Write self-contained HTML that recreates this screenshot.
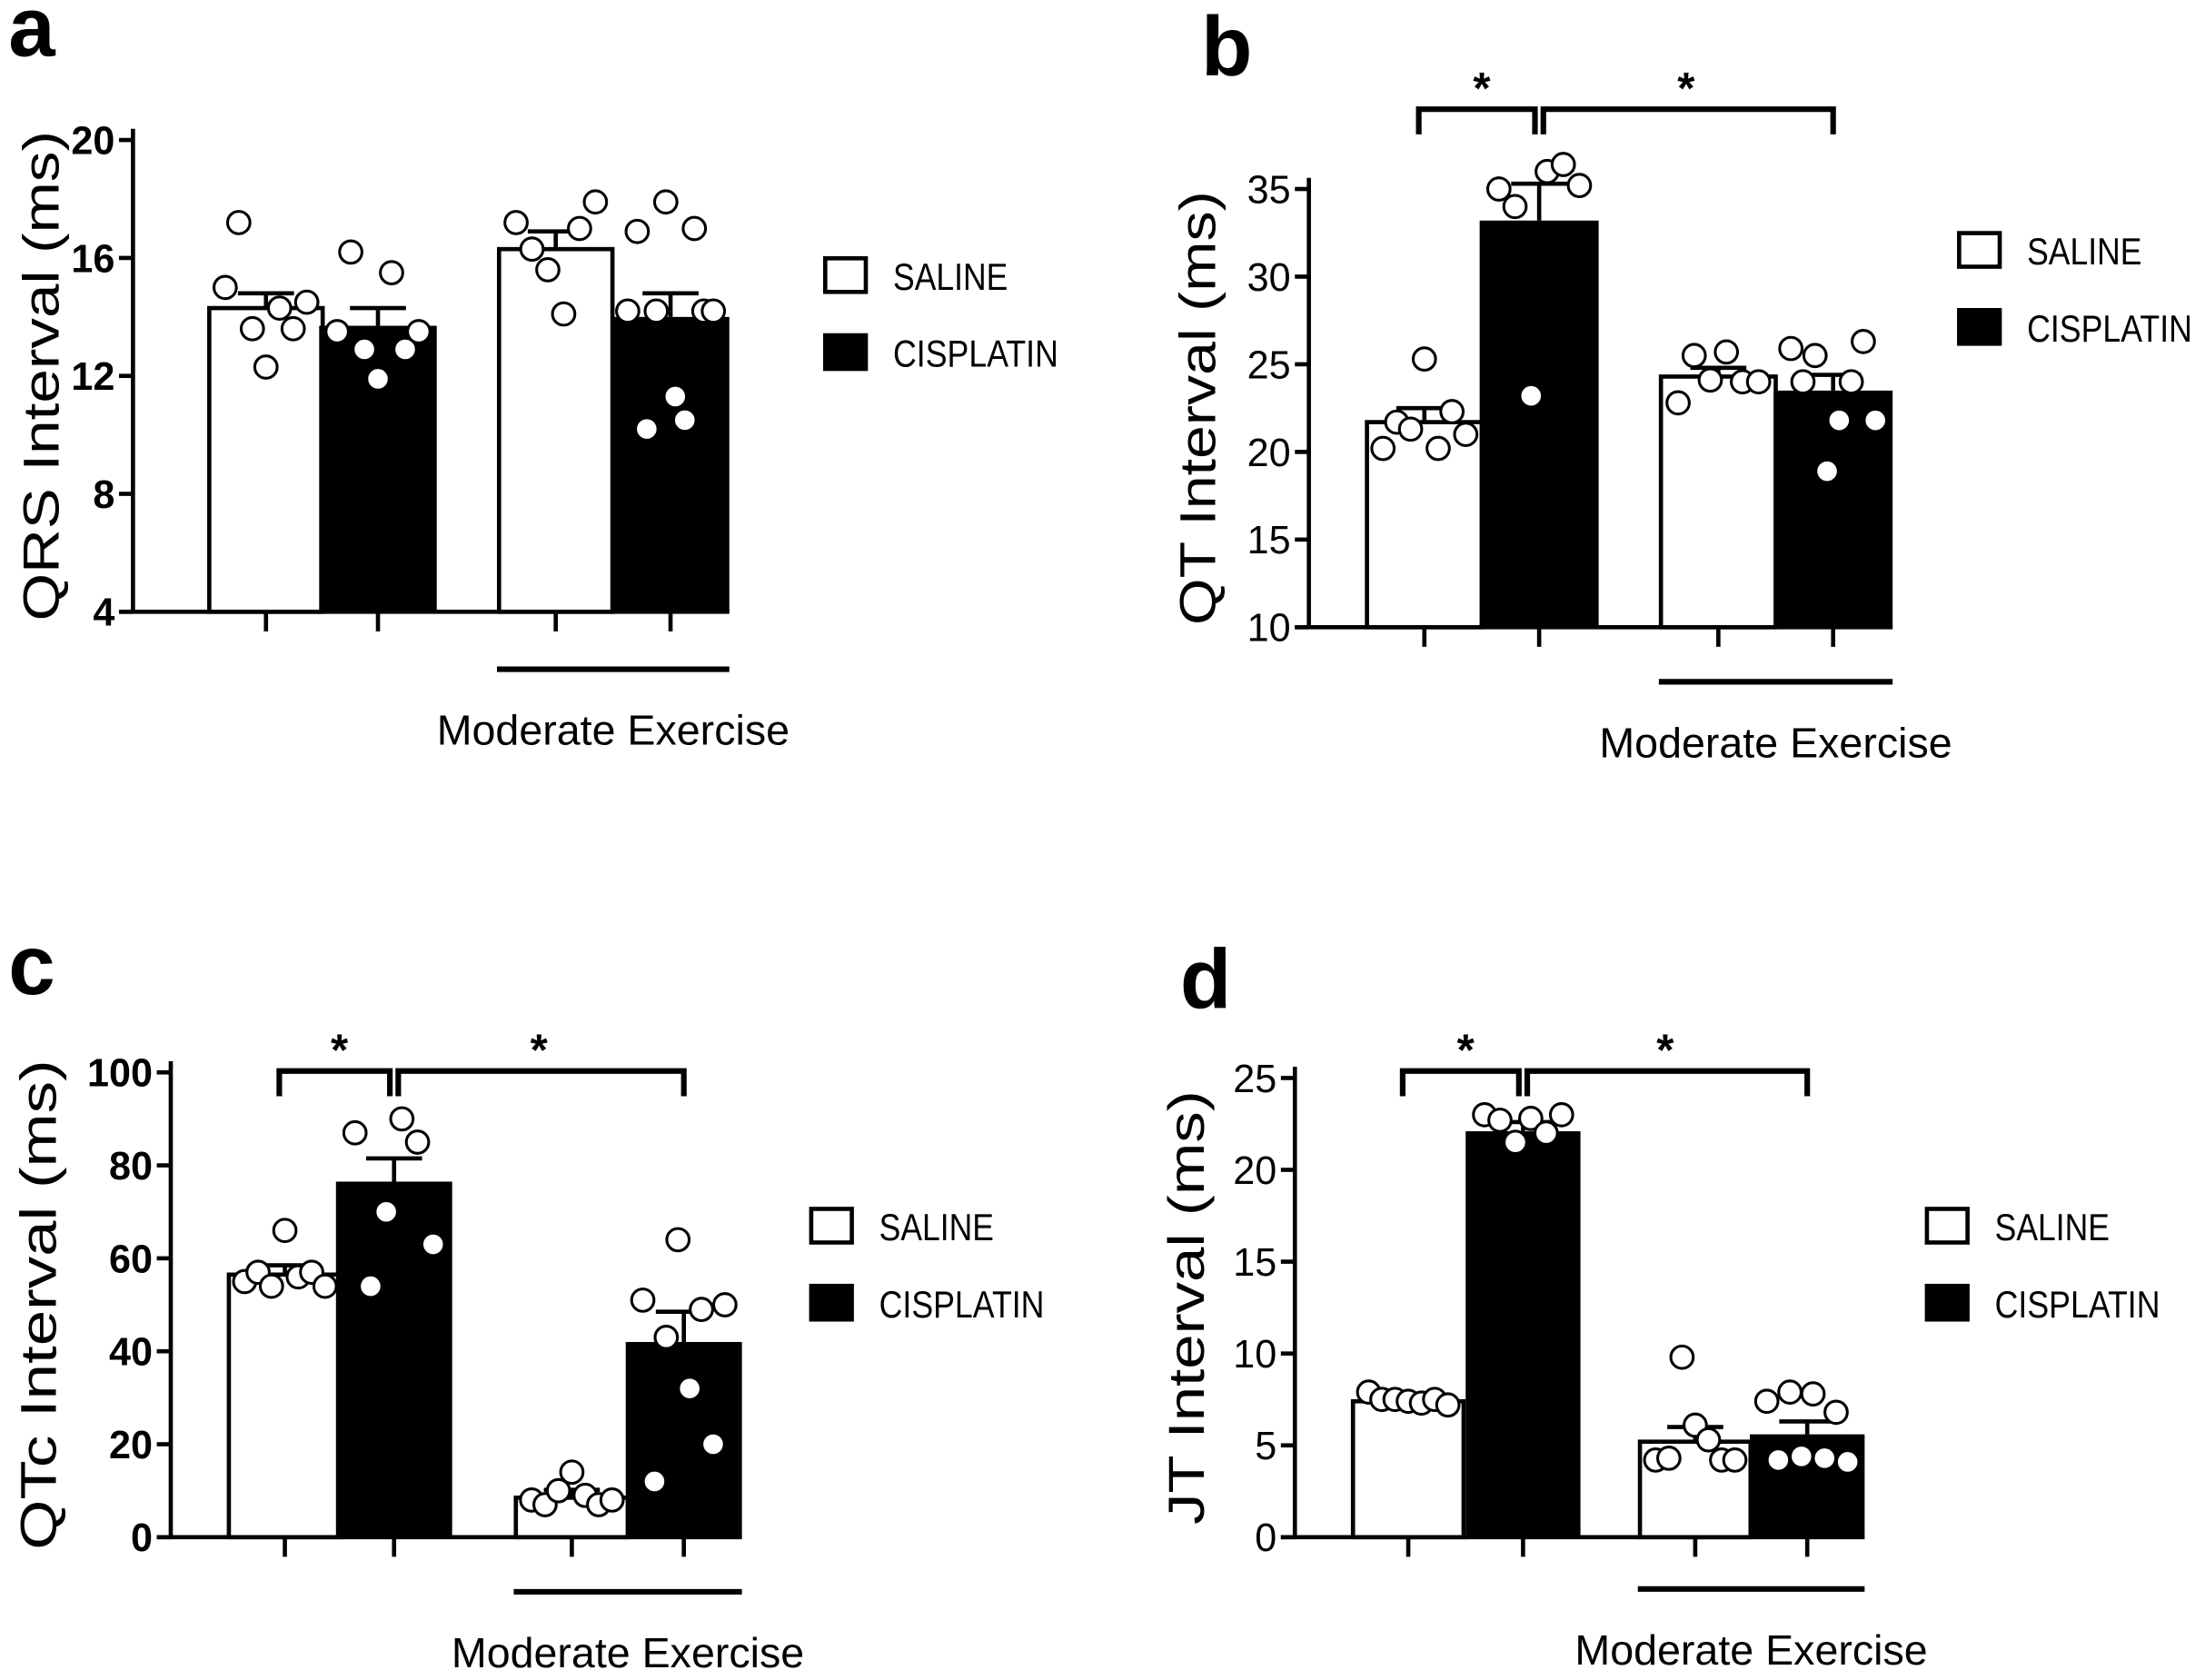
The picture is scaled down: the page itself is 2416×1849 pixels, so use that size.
<!DOCTYPE html>
<html><head><meta charset="utf-8">
<style>
html,body{margin:0;padding:0;background:#fff;}
svg{display:block;}
text{font-family:"Liberation Sans","DejaVu Sans",sans-serif;fill:#000;}
</style></head>
<body>
<svg id="fig" width="2416" height="1849" viewBox="0 0 1568 1200" xmlns="http://www.w3.org/2000/svg"></svg>
<script>
// Panel a: QRS
const aCats = ["Saline", "Cisplatin", "Saline Exercise", "Cisplatin Exercise"];
const aMeans = [14.3, 13.7, 16.3, 14.0];
const aErr = [14.8, 14.3, 16.9, 14.8];
const aPts = [[15.0, 17.2, 13.6, 12.3, 14.3, 13.6, 14.5],[13.5, 16.2, 12.9, 11.9, 15.5, 12.9, 13.5],[17.2, 16.3, 15.6, 14.1, 17.0, 17.9],[14.2, 16.9, 10.2, 14.2, 17.9, 11.3, 10.5, 17.0, 14.2, 14.2]];
const aTicks = [4, 8, 12, 16, 20];
// Panel b: QT
const bMeans = [21.7, 33.2, 24.3, 23.5];
const bErr = [22.5, 35.3, 24.8, 24.4];
const bPts = [[20.2, 21.7, 21.3, 25.3, 20.2, 22.3, 21.0],[35.0, 34.0, 23.2, 36.0, 36.4, 35.2],[22.8, 25.5, 24.1, 25.7, 24.0, 24.0],[25.9, 24.0, 25.5, 18.9, 21.8, 24.0, 26.3, 21.8]];
const bTicks = [10, 15, 20, 25, 30, 35];
// Panel c: QTc
const cMeans = [56.5, 76.5, 8.5, 42.0];
const cErr = [58.5, 81.5, 10.2, 48.5];
const cPts = [[55, 57, 54, 66, 56, 57, 54],[87, 54, 70, 90, 85, 63],[8, 7, 10, 14, 9, 7, 8],[51, 12, 43, 64, 32, 49, 20, 50]];
const cTicks = [0, 20, 40, 60, 80, 100];
// Panel d: JT
const dMeans = [7.4, 22.1, 5.2, 5.6];
const dErr = [7.8, 22.6, 6.0, 6.3];
const dPts = [[7.9, 7.5, 7.5, 7.4, 7.3, 7.5, 7.2],[23, 22.7, 21.5, 22.8, 22, 23],[4.2, 4.3, 9.8, 6.1, 5.3, 4.2, 4.2],[7.4, 4.2, 7.9, 4.4, 7.8, 4.3, 6.8, 4.1]];
const dTicks = [0, 5, 10, 15, 20, 25];

const NS = "http://www.w3.org/2000/svg";
const svg = document.getElementById("fig");
function mk(tag, attrs, parent, txt){
  const e = document.createElementNS(NS, tag);
  for (const k in attrs) e.setAttribute(k, attrs[k]);
  if (txt !== undefined) e.textContent = txt;
  (parent || svg).appendChild(e);
  return e;
}

function panel(cfg){
  const g = mk("g", {});
  
  
  const y = v => cfg.y0 - (v - cfg.vmin) / (cfg.vmax - cfg.vmin) * (cfg.y0 - cfg.y1);
  const L = mk("text", {x: cfg.letterX, y: cfg.letterY, "font-size": 60, "font-weight": "bold"}, g, cfg.letter);
  
  
  const ya = mk("line", {x1: cfg.ax, y1: cfg.y1 - 8, x2: cfg.ax, y2: cfg.y0, stroke: "#000", "stroke-width": 3}, g);
  
  
  cfg.ticks.forEach(t => {
    const tl = mk("line", {x1: cfg.ax - 10, y1: y(t), x2: cfg.ax, y2: y(t), stroke: "#000", "stroke-width": 3}, g);
    
    
    const tt = mk("text", {x: cfg.ax - 13, y: y(t) + 10, "font-size": 28, "text-anchor": "end", "font-weight": cfg.bold ? "bold" : "normal"}, g, String(t));
    
    
  });
  const yt = mk("text", {x: 0, y: 0, "font-size": 36, "text-anchor": "middle", textLength: cfg.titleLen, lengthAdjust: "spacingAndGlyphs", transform: `translate(${cfg.titleX},${(cfg.y0 + cfg.y1) / 2}) rotate(-90)`}, g, cfg.title);
  
  
  cfg.bars.forEach((bx, i) => {
    const w = cfg.bw;
    const black = i % 2 === 1;
    const top = y(cfg.means[i]);
    const cx = bx + w / 2;
    const e1 = mk("line", {x1: cx, y1: y(cfg.err[i]), x2: cx, y2: top, stroke: "#000", "stroke-width": 3}, g);
    
    
    const e2 = mk("line", {x1: cx - 20, y1: y(cfg.err[i]), x2: cx + 20, y2: y(cfg.err[i]), stroke: "#000", "stroke-width": 3}, g);
    
    
    const r = mk("rect", {x: bx + (black ? 0 : 1.5), y: top, width: w - (black ? 0 : 3), height: cfg.y0 - top, fill: black ? "#000" : "#fff", stroke: "#000", "stroke-width": black ? 0 : 3}, g);
    
    
    const xt = mk("line", {x1: cx, y1: cfg.y0, x2: cx, y2: cfg.y0 + 14, stroke: "#000", "stroke-width": 3}, g);
    
    
    const pts = cfg.pts[i];
    pts.forEach((v, j) => {
      const px = bx + 8 + (j + 0.5) / pts.length * (w - 16);
      const c = mk("circle", {cx: px, cy: y(v), r: 8, fill: "#fff", stroke: "#000", "stroke-width": 2}, g);
      
      
    });
  });
  const xa = mk("line", {x1: cfg.ax - 10, y1: cfg.y0, x2: cfg.bars[3] + cfg.bw, y2: cfg.y0, stroke: "#000", "stroke-width": 3}, g);
  
  
  const ex = mk("line", {x1: cfg.bars[2], y1: cfg.exY, x2: cfg.bars[3] + cfg.bw, y2: cfg.exY, stroke: "#000", "stroke-width": 4}, g);
  
  
  const et = mk("text", {x: (cfg.bars[2] + cfg.bars[3] + cfg.bw) / 2, y: cfg.exY + 54, "font-size": 30, "text-anchor": "middle", textLength: 252, lengthAdjust: "spacingAndGlyphs"}, g, "Moderate Exercise");
  
  
  if (cfg.sig){
    const c = i => cfg.bars[i] + cfg.bw / 2;
    const by = cfg.sigY;
    const p1 = mk("path", {d: `M${c(0)-4},${by+18} V${by} H${c(1)-3} V${by+18}`, fill: "none", stroke: "#000", "stroke-width": 4}, g);
    
    
    const p2 = mk("path", {d: `M${c(1)+3},${by+18} V${by} H${c(3)} V${by+18}`, fill: "none", stroke: "#000", "stroke-width": 4}, g);
    
    
    const s1 = mk("text", {x: (c(0) + c(1)) / 2, y: by - 4, "font-size": 32, "font-weight": "bold", "text-anchor": "middle"}, g, "*");
    
    
    const s2 = mk("text", {x: (c(1) + c(3)) / 2, y: by - 4, "font-size": 32, "font-weight": "bold", "text-anchor": "middle"}, g, "*");
    
    
  }
  ["SALINE", "CISPLATIN"].forEach((lab, i) => {
    const ly = cfg.legY + i * 55;
    const b = mk("rect", {x: cfg.legX + 1.5, y: ly + 1.5, width: 29, height: 24, fill: i ? "#000" : "#fff", stroke: "#000", "stroke-width": 3}, g);
    
    
    const t = mk("text", {x: cfg.legX + 50, y: ly + 24, "font-size": 27, textLength: i ? 118 : 82, lengthAdjust: "spacingAndGlyphs"}, g, lab);
    
    
  });
}

panel({name: "panel-a-qrs", letter: "a", letterX: 6, letterY: 40, ax: 95, y0: 437, y1: 100, vmin: 4, vmax: 20, ticks: aTicks, bold: true, title: "QRS Interval (ms)", titleLen: 350, titleX: 42,
  bars: [148, 228, 355, 437], bw: 84, means: aMeans, err: aErr, pts: aPts, exY: 478, sig: false, legX: 588, legY: 183});
panel({name: "panel-b-qt", letter: "b", letterX: 858, letterY: 54, ax: 935, y0: 448, y1: 135, vmin: 10, vmax: 35, ticks: bTicks, bold: false, title: "QT Interval (ms)", titleLen: 310, titleX: 868,
  bars: [975, 1057, 1185, 1267], bw: 85, means: bMeans, err: bErr, pts: bPts, exY: 487, sig: true, sigY: 78, legX: 1398, legY: 165});
panel({name: "panel-c-qtc", letter: "c", letterX: 6, letterY: 710, ax: 122, y0: 1098, y1: 766, vmin: 0, vmax: 100, ticks: cTicks, bold: true, title: "QTc Interval (ms)", titleLen: 350, titleX: 40,
  bars: [162, 240, 367, 447], bw: 83, means: cMeans, err: cErr, pts: cPts, exY: 1137, sig: true, sigY: 765, legX: 578, legY: 862});
panel({name: "panel-d-jt", letter: "d", letterX: 843, letterY: 720, ax: 925, y0: 1098, y1: 770, vmin: 0, vmax: 25, ticks: dTicks, bold: false, title: "JT Interval (ms)", titleLen: 310, titleX: 860,
  bars: [965, 1047, 1170, 1250], bw: 82, means: dMeans, err: dErr, pts: dPts, exY: 1135, sig: true, sigY: 765, legX: 1375, legY: 862});
</script>
</body></html>
